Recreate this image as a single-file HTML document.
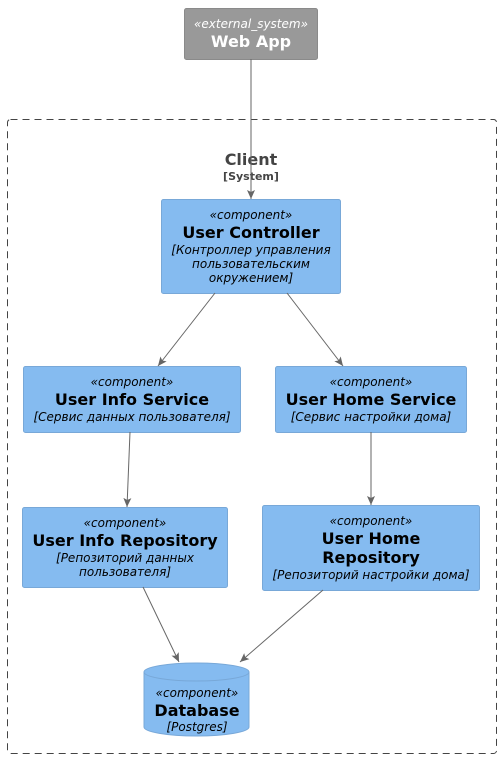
<!DOCTYPE html>
<html><head><meta charset="utf-8"><style>body{margin:0;background:#fff}svg{display:block}</style></head><body>
<svg width="501" height="759" xmlns="http://www.w3.org/2000/svg" font-family="DejaVu Sans, Liberation Sans, sans-serif">
<defs><marker id="a" markerWidth="10" markerHeight="10" refX="9" refY="4" orient="auto" markerUnits="userSpaceOnUse"><path d="M0,0 L9,4 L0,8 L2,4 Z" fill="#666"/></marker></defs>
<rect x="7.5" y="119.5" width="489" height="634" rx="3" fill="none" stroke="#444" stroke-dasharray="7,5"/>
<text x="251" y="165" text-anchor="middle" font-weight="bold" font-size="16" fill="#444">Client</text>
<text x="251" y="180" text-anchor="middle" font-weight="bold" font-size="11" fill="#444">[System]</text>
<rect x="184.5" y="8.5" width="133" height="51" rx="2" fill="#999" stroke="#8a8a8a"/>
<text x="251" y="28" text-anchor="middle" font-style="italic" font-size="12" fill="#fff">«external_system»</text>
<text x="251" y="47" text-anchor="middle" font-weight="bold" font-size="16" fill="#fff">Web App</text>
<g fill="#85bbf0" stroke="#78a8d8">
<rect x="161.5" y="199.5" width="179" height="94" rx="2"/>
<rect x="23.5" y="366.5" width="217" height="66" rx="2"/>
<rect x="275.5" y="366.5" width="191" height="66" rx="2"/>
<rect x="22.5" y="507.5" width="205" height="80" rx="2"/>
<rect x="262.5" y="505.5" width="217" height="85" rx="2"/>
<path d="M144,672 L144,727 A52.5,9 0 0 0 249,727 L249,672 A52.5,9 0 0 0 144,672 Z"/>
<path d="M144,672 A52.5,9 0 0 0 249,672" fill="none"/>
</g>
<g text-anchor="middle" fill="#000">
<text x="251" y="219" font-style="italic" font-size="12">«component»</text>
<text x="251" y="238" font-weight="bold" font-size="16">User Controller</text>
<text x="251" y="254" font-style="italic" font-size="12">[Контроллер управления</text>
<text x="251" y="268" font-style="italic" font-size="12">пользовательским</text>
<text x="251" y="282" font-style="italic" font-size="12">окружением]</text>
<text x="132" y="386" font-style="italic" font-size="12">«component»</text>
<text x="132" y="405" font-weight="bold" font-size="16">User Info Service</text>
<text x="132" y="421" font-style="italic" font-size="12">[Сервис данных пользователя]</text>
<text x="371" y="386" font-style="italic" font-size="12">«component»</text>
<text x="371" y="405" font-weight="bold" font-size="16">User Home Service</text>
<text x="371" y="421" font-style="italic" font-size="12">[Сервис настройки дома]</text>
<text x="125" y="527" font-style="italic" font-size="12">«component»</text>
<text x="125" y="546" font-weight="bold" font-size="16">User Info Repository</text>
<text x="125" y="562" font-style="italic" font-size="12">[Репозиторий данных</text>
<text x="125" y="576" font-style="italic" font-size="12">пользователя]</text>
<text x="371" y="525" font-style="italic" font-size="12">«component»</text>
<text x="371" y="544" font-weight="bold" font-size="16">User Home</text>
<text x="371" y="563" font-weight="bold" font-size="16">Repository</text>
<text x="371" y="579" font-style="italic" font-size="12">[Репозиторий настройки дома]</text>
<text x="197" y="697" font-style="italic" font-size="12">«component»</text>
<text x="197" y="716" font-weight="bold" font-size="16">Database</text>
<text x="197" y="731" font-style="italic" font-size="12">[Postgres]</text>
</g>
<g stroke="#666" stroke-width="1" marker-end="url(#a)">
<line x1="251" y1="59" x2="251" y2="199"/>
<line x1="215" y1="293" x2="158" y2="366"/>
<line x1="287" y1="293" x2="343" y2="366"/>
<line x1="130" y1="432" x2="127" y2="507"/>
<line x1="371" y1="432" x2="371" y2="505"/>
<line x1="143" y1="587" x2="179" y2="662"/>
<line x1="323" y1="590" x2="240" y2="662"/>
</g>
</svg>
</body></html>
